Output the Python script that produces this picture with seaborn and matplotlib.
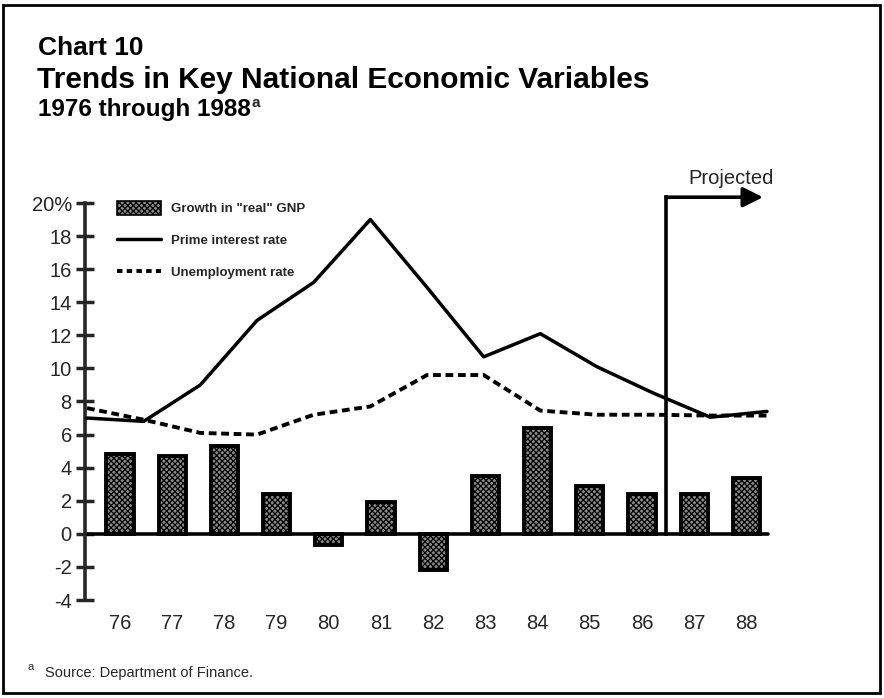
import numpy as np
import pandas as pd
import matplotlib
matplotlib.use("Agg")
import matplotlib.pyplot as plt
import seaborn as sns
from matplotlib.patches import Patch, Rectangle
from matplotlib.lines import Line2D

# ---- data ----
year_labels = ["76", "77", "78", "79", "80", "81", "82", "83", "84", "85", "86", "87", "88"]
years = [1976, 1977, 1978, 1979, 1980, 1981, 1982, 1983, 1984, 1985, 1986, 1987, 1988]
gnp_growth = [4.8, 4.7, 5.3, 2.4, -0.7, 1.9, -2.2, 3.5, 6.4, 2.9, 2.4, 2.4, 3.4]
prime_rate = [7.0, 6.8, 9.0, 12.9, 15.2, 19.0, 14.9, 10.7, 12.1, 10.1, 8.5, 7.05, 7.4]
unemployment = [7.6, 6.9, 6.1, 6.0, 7.2, 7.7, 9.6, 9.6, 7.45, 7.2, 7.2, 7.15, 7.15]
y_ticks = [-4, -2, 0, 2, 4, 6, 8, 10, 12, 14, 16, 18, 20]
y_ticklabels = ["-4", "-2", "0", "2", "4", "6", "8", "10", "12", "14", "16", "18", "20%"]

sns.set_style("white")
FONT = ["Liberation Sans", "DejaVu Sans"]
NARROW = ["Liberation Sans Narrow", "Liberation Sans", "DejaVu Sans"]
plt.rcParams["font.family"] = FONT
plt.rcParams["hatch.linewidth"] = 0.9

W, H = 884, 698
fig = plt.figure(figsize=(W / 100, H / 100), dpi=100)

# axes placed in pixel terms
ax_l, ax_r, ax_t, ax_b = 85, 770, 203, 600
ax = fig.add_axes([ax_l / W, 1 - ax_b / H, (ax_r - ax_l) / W, (ax_b - ax_t) / H])

BAR_FACE = "#8c8c8c"
bars_df = pd.DataFrame({"year": year_labels, "gnp": gnp_growth})
sns.barplot(data=bars_df, x="year", y="gnp", ax=ax, width=0.52, color=BAR_FACE,
            saturation=1, edgecolor="black", linewidth=2.8, hatch="xxxxxx")

# bar spacing in pixels ~52.2, first bar center at px 120
ax.set_xlim(-(120 - ax_l) / 52.2, (ax_r - 120) / 52.2)
ax.set_ylim(-4, 20)
ax.set_yticks(y_ticks)
ax.set_yticklabels(y_ticklabels, fontsize=14.5)
ax.set_xlabel("")
ax.set_ylabel("")
ax.tick_params(axis="y", direction="inout", length=13, width=2.5, pad=3, left=True)
ax.tick_params(axis="x", length=0, pad=10, labelsize=14.5)
for s in ["top", "right", "bottom"]:
    ax.spines[s].set_visible(False)
ax.spines["left"].set_linewidth(2.6)
ax.axhline(0, xmin=0, xmax=0.997, color="black", lw=2.6, zorder=1)

# lines on a year axis spanning the plot
ax2 = ax.twiny()
lines_df = pd.DataFrame({"year": years, "prime": prime_rate, "unemp": unemployment})
sns.lineplot(data=lines_df, x="year", y="prime", ax=ax2, color="black", lw=2.5)
sns.lineplot(data=lines_df, x="year", y="unemp", ax=ax2, color="black", lw=2.8,
             linestyle=(0, (2.0, 1.2)))
step = (767 - 87) / 12.0
ax2.set_xlim(1976 - (87 - ax_l) / step, 1988 + (ax_r - 767) / step)
ax2.set_ylim(-4, 20)
ax2.set_xlabel("")
ax2.set_ylabel("")
ax2.set_xticks([])
for s in ax2.spines.values():
    s.set_visible(False)

# Projected marker
xv = (666 - 120) / 52.2
x_end = (763 - 120) / 52.2
y_arrow = 20.35
ax.plot([xv, xv], [0, y_arrow], color="black", lw=2.6, clip_on=False, zorder=3,
        solid_capstyle="projecting")
ax.annotate("", xy=(x_end, y_arrow), xytext=(xv, y_arrow), annotation_clip=False,
            arrowprops=dict(arrowstyle="-|>", color="black", lw=2.6,
                            mutation_scale=30, shrinkA=0, shrinkB=0))
ax.text((731 - 120) / 52.2, 21.5, "Projected", fontsize=14.5, ha="center",
        va="center", clip_on=False)

# legend
handles = [
    Patch(facecolor=BAR_FACE, edgecolor="black", hatch="xxxxxx", linewidth=1.2),
    Line2D([], [], color="black", lw=2.5),
    Line2D([], [], color="black", lw=2.8, linestyle=(0, (1.4, 1.1))),
]
labels = ['Growth in "real" GNP', "Prime interest rate", "Unemployment rate"]
leg = ax.legend(handles, labels, loc="upper left", bbox_to_anchor=(0.047, 1.005),
                frameon=False, prop={"family": NARROW, "size": 9.5, "weight": "bold"},
                handlelength=3.3, handleheight=1.2, labelspacing=1.35,
                handletextpad=0.8, borderpad=0, borderaxespad=0)

# titles
fig.text(38 / W, 1 - 55 / H, "Chart 10", fontsize=19, fontweight="bold", va="baseline",
         color="black")
fig.text(37 / W, 1 - 88 / H, "Trends in Key National Economic Variables",
         fontsize=21.5, fontweight="bold", va="baseline", color="black")
sub = fig.text(38 / W, 1 - 116 / H, "1976 through 1988", fontsize=17.5,
               fontweight="bold", va="baseline", color="black")
r = fig.canvas.get_renderer()
bb = sub.get_window_extent(renderer=r)
fig.text((bb.x1 + 1) / W, 1 - 107 / H, "a", fontsize=11, fontweight="bold", va="baseline")

# footnote
fig.text(28 / W, 1 - 670 / H, "a", fontsize=8, va="baseline")
fig.text(45 / W, 1 - 677 / H, "Source: Department of Finance.", fontsize=10.5,
         va="baseline", family=NARROW)

# page frame
fig.patches.append(Rectangle((3 / W, 1 - 693 / H), 877 / W, 688 / H,
                             transform=fig.transFigure, fill=False,
                             edgecolor="black", lw=2))

fig.savefig("out.png", dpi=100)
